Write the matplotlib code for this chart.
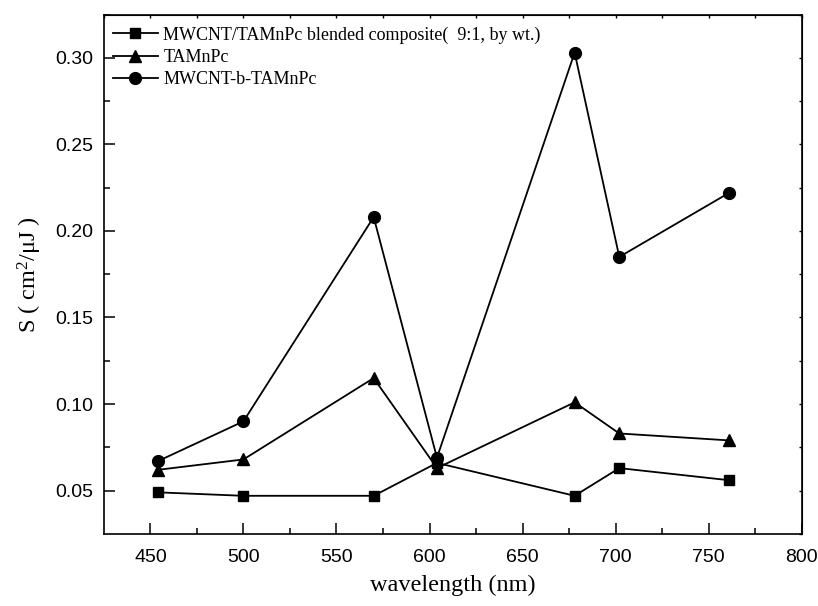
import matplotlib
matplotlib.use('Agg')
from matplotlib import pyplot
import numpy

# wavelength (nm)
wavelength = [454, 500, 570, 604, 678, 702, 761]
# photosensitivity S (cm^2/uJ)
s_blend = [0.049, 0.047, 0.047, 0.066, 0.047, 0.063, 0.056]
s_tamnpc = [0.062, 0.068, 0.115, 0.063, 0.101, 0.083, 0.079]
s_bonded = [0.067, 0.090, 0.208, 0.069, 0.303, 0.185, 0.222]

labels = ['MWCNT/TAMnPc blended composite(  9:1, by wt.)', 'TAMnPc', 'MWCNT-b-TAMnPc']

pyplot.rcParams.update({'font.family': 'Liberation Sans',
                        'mathtext.fontset': 'custom',
                        'mathtext.rm': 'Liberation Serif',
                        'mathtext.it': 'Liberation Serif:italic'})

fig = pyplot.figure(figsize=(8.18, 6.06), dpi=100)
ax = fig.add_axes([0.127, 0.119, 0.853, 0.857])

ax.plot(wavelength, s_blend, marker='s', ms=7.5, color='black', lw=1.3, label=labels[0])
ax.plot(wavelength, s_tamnpc, marker='^', ms=9, color='black', lw=1.3, label=labels[1])
ax.plot(wavelength, s_bonded, marker='o', ms=8.5, color='black', lw=1.3, label=labels[2])

ax.set_xlim(425, 800)
ax.set_ylim(0.025, 0.325)
ax.set_xticks(numpy.arange(450, 801, 50))
ax.set_xticks(numpy.arange(475, 800, 50), minor=True)
ax.set_yticks(numpy.arange(0.05, 0.31, 0.05))
ax.set_yticks(numpy.arange(0.075, 0.33, 0.05), minor=True)
ax.yaxis.set_major_formatter(matplotlib.ticker.FormatStrFormatter('%.2f'))

ax.tick_params(which='major', direction='in', length=8, width=1.1, labelsize=14)
ax.tick_params(axis='y', which='major', pad=8)
ax.tick_params(axis='x', which='major', pad=11)
ax.tick_params(which='minor', direction='in', length=4.5, width=1.1)
for s in ax.spines.values():
    s.set_linewidth(1.2)

top = ax.secondary_xaxis('top')
top.set_xticks(numpy.arange(425, 801, 25))
top.tick_params(direction='in', length=2, width=1, labeltop=False)
right = ax.secondary_yaxis('right')
right.set_yticks(numpy.arange(0.025, 0.326, 0.025))
right.tick_params(direction='in', length=2, width=1, labelright=False)

ax.set_xlabel('wavelength (nm)', fontname='Liberation Serif', fontsize=17.5, labelpad=6)
ax.set_ylabel('S ( cm$^{2}$/μJ )', fontname='Liberation Serif', fontsize=17.5, labelpad=8)

ax.legend(loc='upper left', bbox_to_anchor=(-0.004, 1.0), frameon=False,
          prop={'family': 'Liberation Serif', 'size': 13},
          handlelength=2.5, handletextpad=0.3, labelspacing=0.3,
          borderaxespad=0.35, borderpad=0.3)

fig.savefig('out.png')
